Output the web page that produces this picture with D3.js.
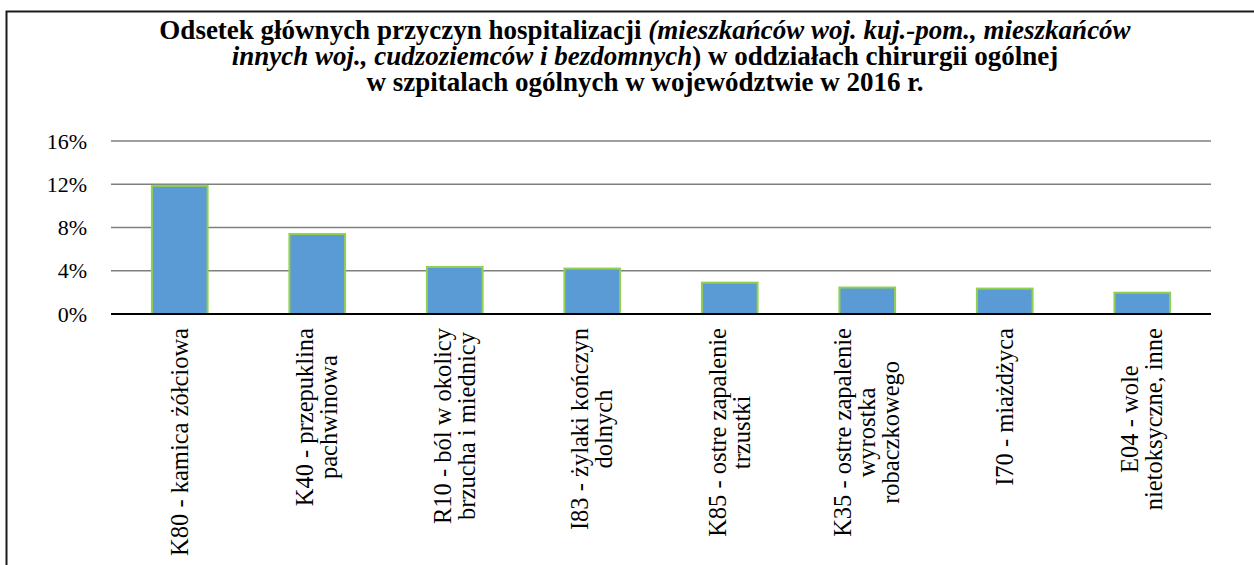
<!DOCTYPE html>
<html><head><meta charset="utf-8">
<script src="https://cdn.jsdelivr.net/npm/d3@7"></script>
<style>
html,body{margin:0;padding:0;background:#fff;}
svg{display:block;}
text{font-family:"Liberation Serif","Times New Roman",serif;fill:#000;}
</style></head>
<body><svg id="c" width="1254" height="565"></svg>
<script>
const categories = [
  ["K80 - kamica żółciowa"],
  ["K40 - przepuklina", "pachwinowa"],
  ["R10 - ból w okolicy", "brzucha i miednicy"],
  ["I83 - żylaki kończyn", "dolnych"],
  ["K85 - ostre zapalenie", "trzustki"],
  ["K35 - ostre zapalenie", "wyrostka", "robaczkowego"],
  ["I70 - miażdżyca"],
  ["E04 - wole", "nietoksyczne, inne"]
];
const values = [11.85, 7.4, 4.35, 4.2, 2.9, 2.45, 2.35, 1.97];
const yTicks = [0, 4, 8, 12, 16];
const titleLines = [
  [["Odsetek głównych przyczyn hospitalizacji ", false], ["(mieszkańców woj. kuj.-pom., mieszkańców", true]],
  [["innych woj., cudzoziemców i bezdomnych", true], [") w oddziałach chirurgii ogólnej", false]],
  [["w szpitalach ogólnych w województwie w 2016 r.", false]]
];

const svg = d3.select("#c");
const mLeft = 111, mRight = 1211, mTop = 141, mBottom = 314;

// outer border (only top and left visible; chart continues past the crop)
svg.append("rect").attr("x", 6.5).attr("y", 11.5).attr("width", 1300).attr("height", 600)
  .attr("fill", "none").attr("stroke", "#1a1a1a").attr("stroke-width", 2);

// title
const tg = svg.append("g");
titleLines.forEach((ln, i) => {
  const t = tg.append("text").attr("x", 645).attr("y", 39 + i * 26)
    .attr("text-anchor", "middle").attr("font-size", 27).attr("font-weight", "bold");
  ln.forEach(([s, it]) => t.append("tspan").text(s).attr("font-style", it ? "italic" : "normal"));
});

const x = d3.scaleBand().domain(d3.range(categories.length)).range([mLeft, mRight]).paddingInner(0.595).paddingOuter(0.2975);
const y = d3.scaleLinear().domain([0, 16]).range([mBottom, mTop]);

// gridlines
svg.append("g").selectAll("line").data(yTicks.filter(d => d > 0)).join("line")
  .attr("x1", mLeft).attr("x2", mRight).attr("y1", d => y(d)).attr("y2", d => y(d))
  .attr("stroke", "#7f7f7f").attr("stroke-width", 1.5);

// y axis labels
const yAxis = d3.axisLeft(y).tickValues(yTicks).tickFormat(d => d + "%").tickSize(0).tickPadding(24);
const ya = svg.append("g").attr("transform", `translate(${mLeft},0)`).call(yAxis);
ya.select(".domain").remove();
ya.selectAll("text").attr("font-size", 22).attr("font-family", "Liberation Serif, serif").attr("fill", "#000");

// bars
svg.append("g").selectAll("rect").data(values).join("rect")
  .attr("x", (d, i) => x(i)).attr("width", x.bandwidth())
  .attr("y", d => y(d)).attr("height", d => y(0) - y(d))
  .attr("fill", "#5b9bd5").attr("stroke", "#92d050").attr("stroke-width", 2);

// baseline
svg.append("line").attr("x1", mLeft).attr("x2", mRight).attr("y1", mBottom).attr("y2", mBottom)
  .attr("stroke", "#000").attr("stroke-width", 2);

// x labels (rotated)
const lineH = 24, fs = 24.5, labelTop = 328;
categories.forEach((lines, i) => {
  const cx = x(i) + x.bandwidth() / 2;
  const g = svg.append("g").attr("transform", `translate(${cx},${labelTop}) rotate(-90)`);
  const t = g.append("text").attr("font-size", fs).attr("text-anchor", "middle");
  const tmp = lines.map(l => t.append("tspan").text(l));
  const maxLen = d3.max(tmp, s => s.node().getComputedTextLength());
  const n = lines.length;
  tmp.forEach((s, j) => {
    s.attr("x", -maxLen / 2).attr("y", (j - (n - 1) / 2) * lineH + fs * 0.33);
  });
});
</script></body></html>
